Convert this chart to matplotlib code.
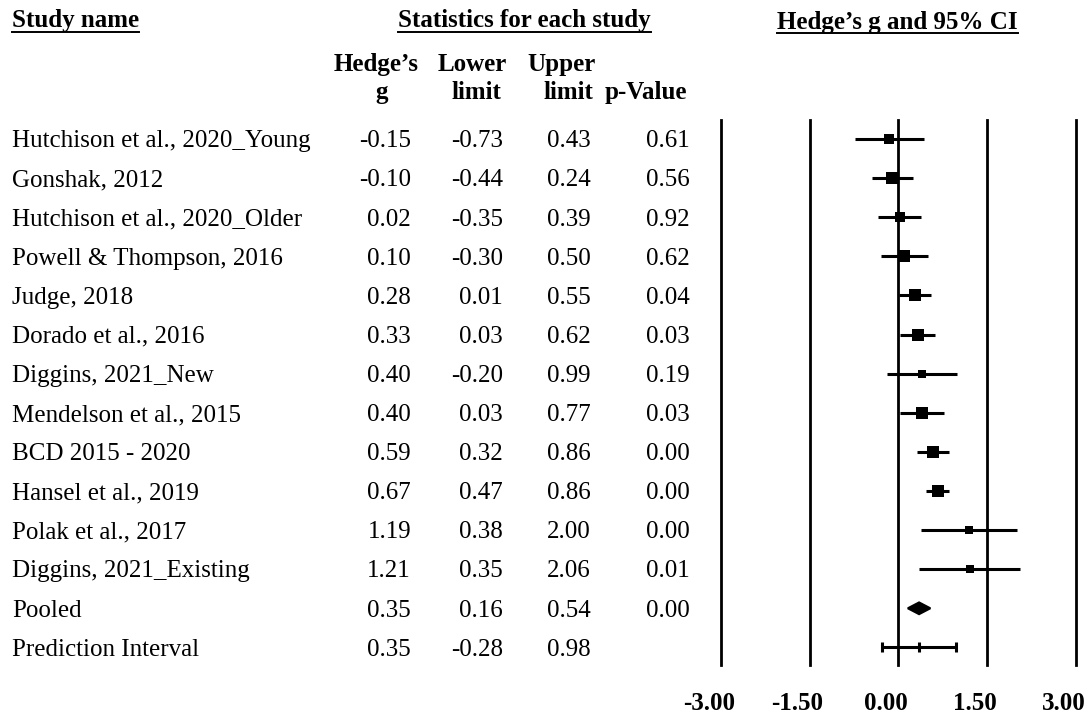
import matplotlib
matplotlib.use("Agg")
import matplotlib.pyplot as plt
from matplotlib import transforms
from matplotlib.lines import Line2D
from matplotlib.patches import Polygon

plt.rcParams["font.family"] = ["Liberation Serif", "DejaVu Serif"]

# Individual study results
studies = [
    "Hutchison et al., 2020_Young",
    "Gonshak, 2012",
    "Hutchison et al., 2020_Older",
    "Powell & Thompson, 2016",
    "Judge, 2018",
    "Dorado et al., 2016",
    "Diggins, 2021_New",
    "Mendelson et al., 2015",
    "BCD 2015 - 2020",
    "Hansel et al., 2019",
    "Polak et al., 2017",
    "Diggins, 2021_Existing",
]
hedges_g = [-0.15, -0.10, 0.02, 0.10, 0.28, 0.33, 0.40, 0.40, 0.59, 0.67, 1.19, 1.21]
lower_limit = [-0.73, -0.44, -0.35, -0.30, 0.01, 0.03, -0.20, 0.03, 0.32, 0.47, 0.38, 0.35]
upper_limit = [0.43, 0.24, 0.39, 0.50, 0.55, 0.62, 0.99, 0.77, 0.86, 0.86, 2.00, 2.06]
p_values = [0.61, 0.56, 0.92, 0.62, 0.04, 0.03, 0.19, 0.03, 0.00, 0.00, 0.00, 0.01]
# relative weights (%) -> box sizes
weights = [6.0, 11.2, 7.7, 8.6, 9.5, 10.4, 5.2, 9.5, 10.4, 11.4, 4.2, 4.2]

# Summary rows
pooled_g, pooled_lower, pooled_upper, pooled_p = 0.35, 0.16, 0.54, 0.00
pi_g, pi_lower, pi_upper = 0.35, -0.28, 0.98

axis_ticks = [-3.00, -1.50, 0.00, 1.50, 3.00]

W, H = 1092, 717
FS = 18


def fx(px):
    return px / W


def fy(py):
    return 1 - py / H


fig = plt.figure(figsize=(W / 100, H / 100), dpi=100)
ax = fig.add_axes([fx(720.7), fy(665), 355.3 / W, 545 / H])

n_rows = len(studies) + 2
ax.set_xlim(-3, 3)
ax.set_ylim(13.45, -0.486)
for s in ax.spines.values():
    s.set_visible(False)
ax.set_yticks([])
ax.set_xticks(axis_ticks)
ax.set_xticklabels([f"{t:.2f}" for t in axis_ticks], fontsize=FS, fontweight="bold")
ax.tick_params(axis="x", length=0, pad=19.5)
# labels sit a little left of their lines
shift = transforms.ScaledTranslation(-0.12, 0, fig.dpi_scale_trans)
for lab in ax.get_xticklabels():
    lab.set_transform(lab.get_transform() + shift)

for t in axis_ticks:
    ax.axvline(t, color="black", lw=2.0, zorder=1, clip_on=False)

# study CIs and weighted boxes
for i, (g, lo, hi, w) in enumerate(zip(hedges_g, lower_limit, upper_limit, weights)):
    ax.plot([lo, hi], [i, i], color="black", lw=2.2, solid_capstyle="butt", zorder=2)
    side = 1.1 * (w * 11.63) ** 0.5 / 1.389
    ax.plot(g, i, marker="s", ms=side, mew=0, color="black", zorder=3)

# pooled diamond
r = len(studies)
h = 0.15
ax.add_patch(Polygon([(pooled_lower, r), (pooled_g, r - h), (pooled_upper, r), (pooled_g, r + h)],
                     closed=True, facecolor="black", edgecolor="black", lw=1.5, zorder=3))

# prediction interval with end caps
r = len(studies) + 1
ax.plot([pi_lower, pi_upper], [r, r], color="black", lw=2.2, solid_capstyle="butt", zorder=2)
for xv in (pi_lower, pi_g, pi_upper):
    ax.plot([xv, xv], [r - 0.13, r + 0.13], color="black", lw=2.2, solid_capstyle="butt", zorder=2)

# table columns
row_trans = transforms.offset_copy(
    transforms.blended_transform_factory(fig.transFigure, ax.transData),
    fig=fig, x=0, y=-8.3, units="dots")

names = studies + ["Pooled", "Prediction Interval"]
col_g = hedges_g + [pooled_g, pi_g]
col_lo = lower_limit + [pooled_lower, pi_lower]
col_hi = upper_limit + [pooled_upper, pi_upper]
col_p = p_values + [pooled_p, None]

for i in range(n_rows):
    fig.text(fx(12), i, names[i], transform=row_trans, fontsize=FS, va="baseline", ha="left")
    for xr, vals in ((411, col_g), (503, col_lo), (591, col_hi), (690, col_p)):
        if vals[i] is None:
            continue
        fig.text(fx(xr), i, f"{vals[i]:.2f}", transform=row_trans, fontsize=FS,
                 va="baseline", ha="right")

# column headers
headers = [
    ("Hedge\u2019s", 376, 71), ("g", 382, 99),
    ("Lower", 472, 71), ("limit", 476, 99),
    ("Upper", 561, 71), ("limit", 568, 99),
    ("p-Value", 646, 99),
]
for txt, xc, yb in headers:
    fig.text(fx(xc), fy(yb), txt, fontsize=FS, fontweight="bold", ha="center", va="baseline")

# underlined section titles
titles = [
    ("Study name", 12, 27, 32),
    ("Statistics for each study", 398, 27, 32),
    ("Hedge\u2019s g and 95% CI", 777, 29, 33),
]
fig.canvas.draw()
renderer = fig.canvas.get_renderer()
for txt, xl, yb, yu in titles:
    t = fig.text(fx(xl), fy(yb), txt, fontsize=FS, fontweight="bold", ha="left", va="baseline")
    bb = t.get_window_extent(renderer)
    fig.add_artist(Line2D([bb.x0 / W, bb.x1 / W], [fy(yu), fy(yu)],
                          transform=fig.transFigure, color="black", lw=1.4))

fig.savefig("out.png", dpi=100)
